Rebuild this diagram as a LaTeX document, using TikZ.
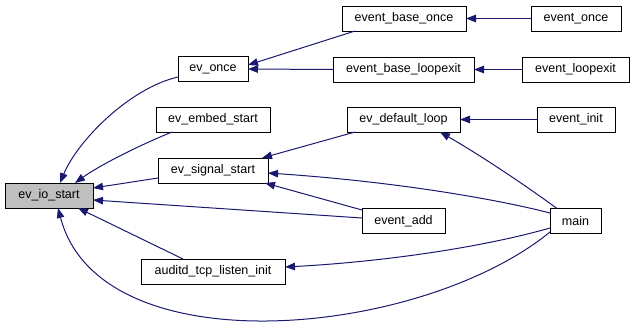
\documentclass[tikz,border=0pt]{standalone}
\usepackage{fontspec}
\setmainfont{Liberation Sans}
\usetikzlibrary{arrows.meta,calc}
\definecolor{edgeblue}{HTML}{191970}
\definecolor{focusgray}{HTML}{BFBFBF}
\begin{document}
\begin{tikzpicture}[x=1pt,y=-1pt,
  fn/.style={draw=black,line width=0.9pt,fill=white,minimum height=25pt,
    inner sep=0pt,outer sep=0pt,font=\fontsize{12.5}{14}\selectfont},
  focus/.style={fn,fill=focusgray},
  call/.style={draw=edgeblue,line width=1pt,
    -{Triangle[length=10pt,width=7.5pt,fill=edgeblue]}}]
\useasboundingbox (0,0) rectangle (635,325);

% functions, column by column
\node[focus,minimum width=88pt]  (io)      at (49,195.5)   {ev\_io\_start};

\node[fn,minimum width=70pt]  (once)      at (213,69)      {ev\_once};
\node[fn,minimum width=114pt] (embed)     at (213,119.5)   {ev\_embed\_start};
\node[fn,minimum width=110pt] (sig)       at (213,170.5)   {ev\_signal\_start};
\node[fn,minimum width=144pt] (auditd)    at (213,271.5)   {auditd\_tcp\_listen\_init};

\node[fn,minimum width=124pt] (ebo)       at (404,18.5)    {event\_base\_once};
\node[fn,minimum width=141pt] (ebl)       at (403.5,69.5)  {event\_base\_loopexit};
\node[fn,minimum width=113pt] (defloop)   at (403.5,119.5) {ev\_default\_loop};
\node[fn,minimum width=83pt]  (eadd)      at (403.5,221)   {event\_add};

\node[fn,minimum width=90pt]  (eonce)     at (576,18.5)    {event\_once};
\node[fn,minimum width=107pt] (eloopexit) at (575.5,69.5)  {event\_loopexit};
\node[fn,minimum width=78pt]  (einit)     at (576,119.5)   {event\_init};
\node[fn,minimum width=51pt]  (main)      at (575.5,221)   {main};

% calls into ev_io_start
\draw[call] ([yshift=-8pt]once.west) .. controls (130,88) and (78,140) .. ([xshift=11pt]io.north);
\draw[call] ([xshift=-41pt]embed.south) .. controls (140,145) and (100,165) .. ([xshift=26pt]io.north);
\draw[call] ([yshift=-7.5pt]sig.west) -- ([yshift=7.5pt]io.east);
\draw[call] ([yshift=3pt]eadd.west) -- ([yshift=-4.5pt]io.east);
\draw[call] ([xshift=-30pt]auditd.north) -- ([xshift=29pt]io.south);
\draw[call] ([yshift=-11pt]main.west) .. controls (420,338) and (100,368) .. ([xshift=9pt]io.south);

% calls into ev_once
\draw[call] ([xshift=-49pt]ebo.south) -- ([yshift=4pt]once.east);
\draw[call] (ebl.west) -- (once.east);
\draw[call] (eonce.west) -- (ebo.east);
\draw[call] (eloopexit.west) -- (ebl.east);

% calls into ev_signal_start
\draw[call] ([xshift=-48.5pt]defloop.south) -- ([xshift=49pt]sig.north);
\draw[call] ([yshift=11pt]eadd.west) -- ([xshift=52pt]sig.south);
\draw[call] ([yshift=8pt]main.west) .. controls (500,200) and (400,182) .. ([yshift=-2.5pt]sig.east);

% calls into ev_default_loop and auditd_tcp_listen_init
\draw[call] (einit.west) -- (defloop.east);
\draw[call] ([xshift=-18.5pt]main.north) .. controls (525,185) and (480,155) .. ([xshift=36.5pt]defloop.south);
\draw[call] ([yshift=-7pt]main.west) .. controls (480,248) and (380,262) .. ([yshift=4.5pt]auditd.east);
\end{tikzpicture}
\end{document}
